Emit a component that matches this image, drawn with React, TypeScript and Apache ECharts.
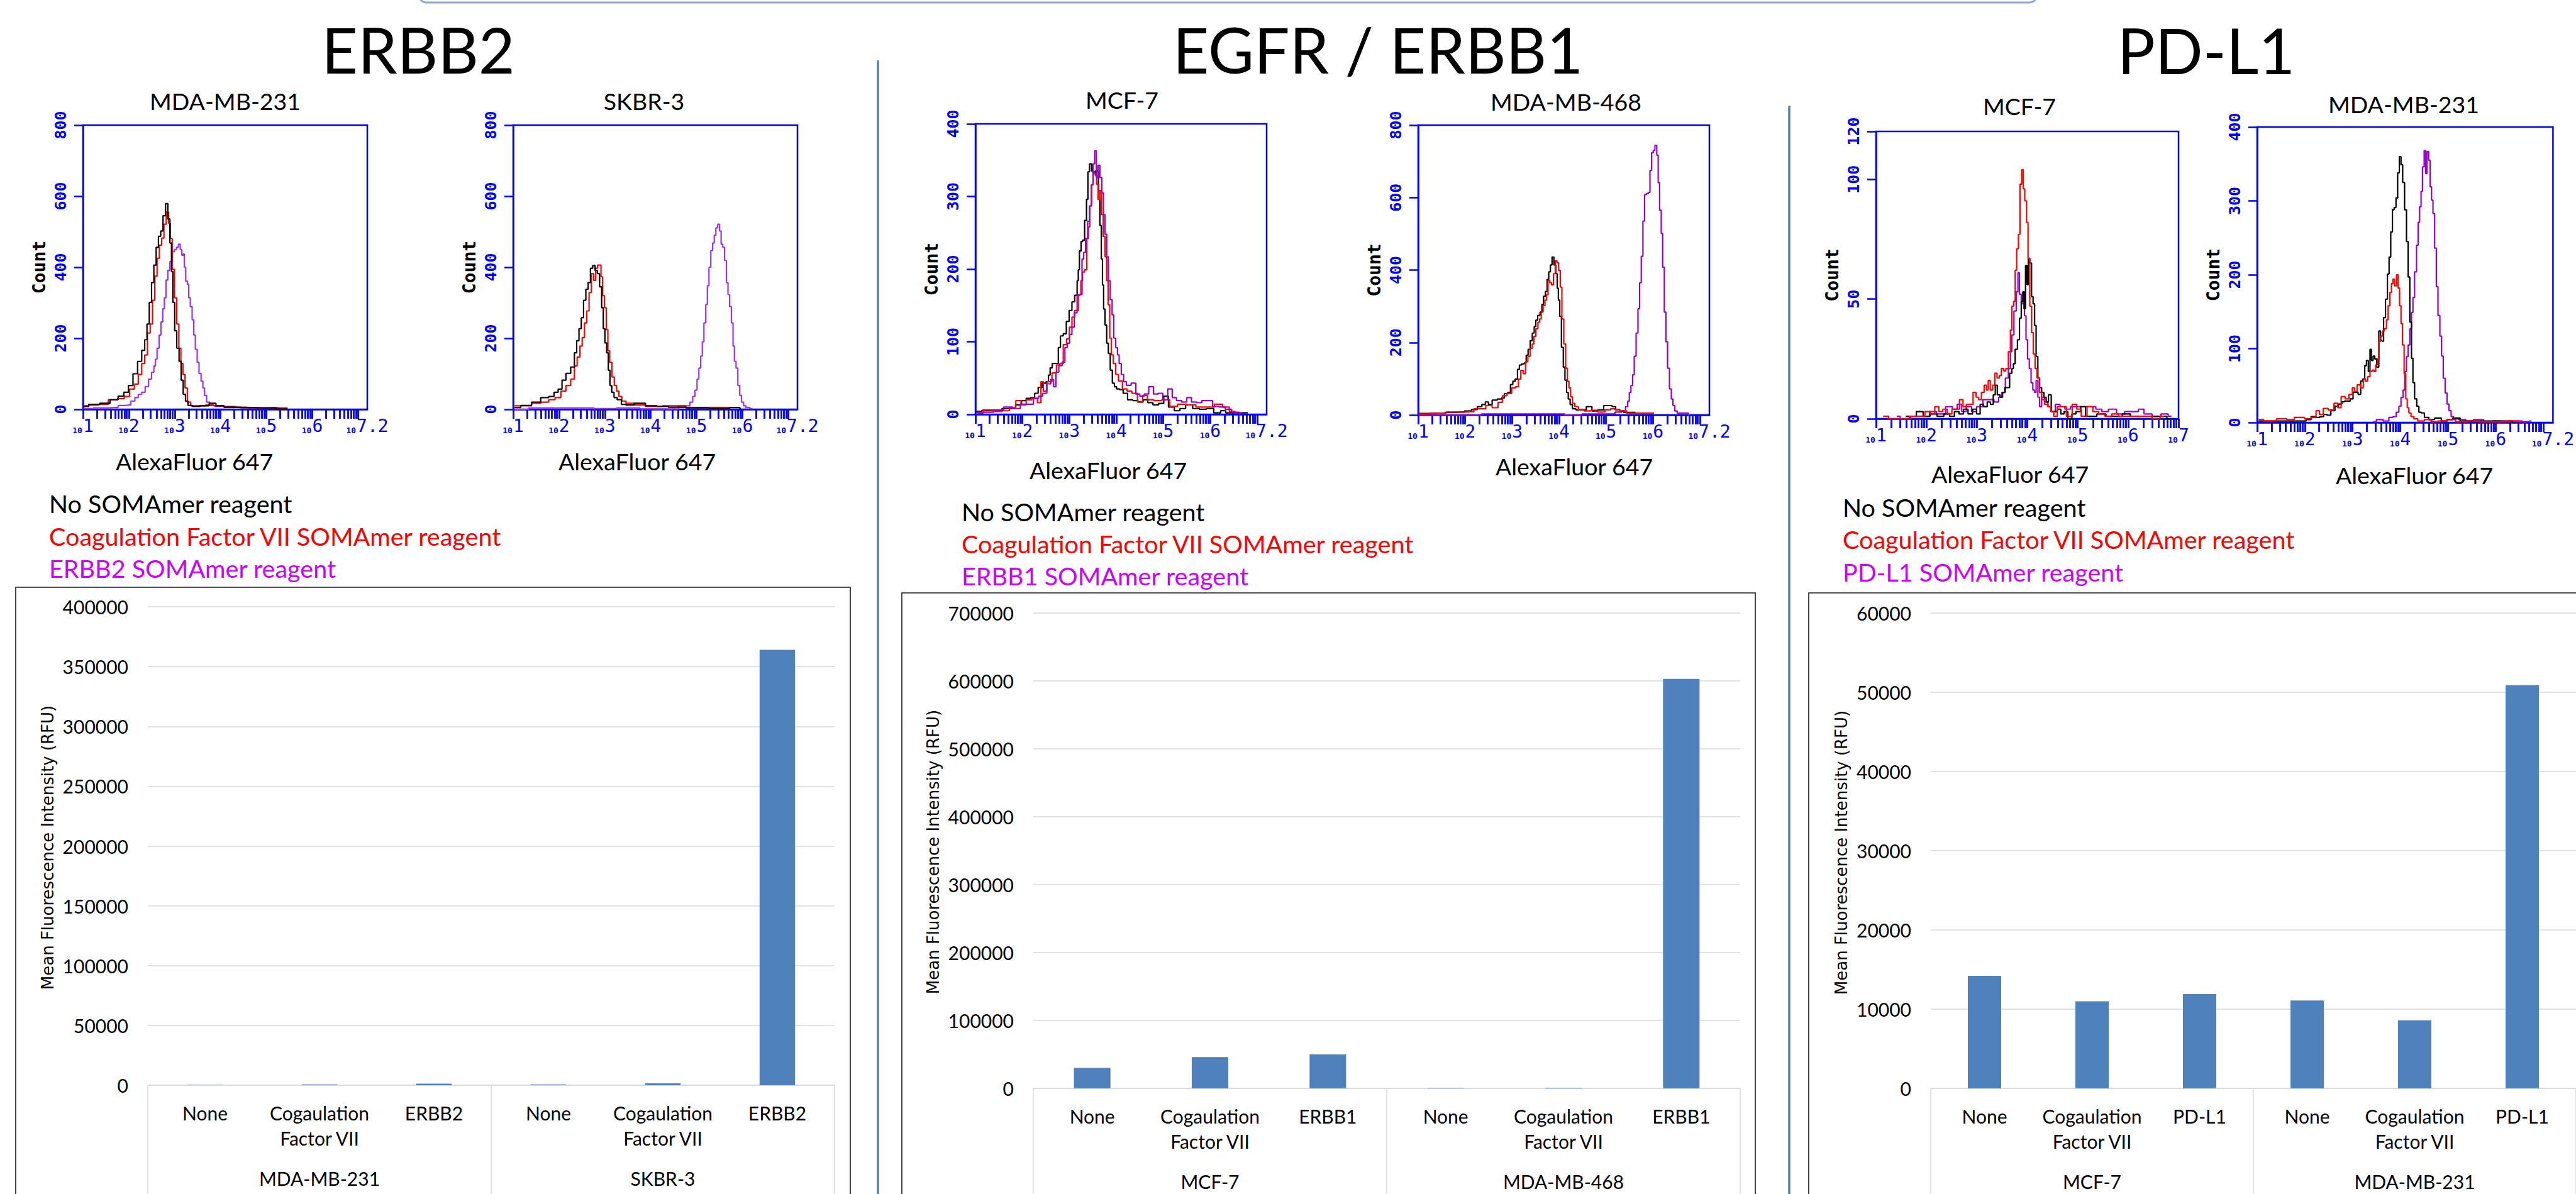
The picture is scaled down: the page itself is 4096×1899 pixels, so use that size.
import React, { useEffect, useRef } from "react";
import * as echarts from "echarts";

// ---------- Histogram data: [log10(AlexaFluor 647 intensity), count] ----------
// ERBB2 / MDA-MB-231
const h1Black = [[1.01,8],[1.24,14],[1.49,17],[1.69,27],[1.84,37],[1.94,48],[2.04,67],[2.14,100],[2.24,135],[2.32,166],[2.37,196],[2.42,240],[2.47,301],[2.52,357],[2.57,406],[2.62,456],[2.67,487],[2.72,502],[2.77,545],[2.83,579],[2.87,536],[2.92,468],[2.94,388],[2.98,301],[3.02,221],[3.07,172],[3.12,135],[3.16,82],[3.21,42],[3.26,23],[3.32,11],[3.45,8],[3.65,10],[3.85,17],[3.95,10],[4.2,6],[4.45,5],[4.95,4],[5.46,1]];
const h1Red = [[1.01,10],[1.24,12],[1.44,14],[1.66,27],[1.84,30],[1.96,36],[2.07,57],[2.17,71],[2.24,98],[2.32,129],[2.37,153],[2.44,215],[2.49,240],[2.54,307],[2.59,375],[2.64,425],[2.69,462],[2.74,482],[2.79,521],[2.84,555],[2.89,524],[2.92,481],[2.97,394],[3.02,314],[3.07,240],[3.11,172],[3.16,129],[3.2,98],[3.25,60],[3.3,20],[3.4,10],[3.6,10],[3.75,12],[3.95,10],[4.2,8],[4.45,6],[4.7,4],[5.46,4]];
const h1Purple = [[1.01,2],[1.44,4],[1.69,5],[1.84,11],[1.99,12],[2.09,23],[2.17,33],[2.24,42],[2.32,48],[2.39,64],[2.47,85],[2.52,104],[2.57,122],[2.59,141],[2.64,172],[2.68,209],[2.72,246],[2.76,283],[2.79,314],[2.83,364],[2.87,391],[2.92,416],[2.97,444],[3.02,450],[3.06,456],[3.1,465],[3.14,450],[3.17,434],[3.2,437],[3.22,400],[3.26,361],[3.29,352],[3.32,314],[3.36,289],[3.4,252],[3.43,209],[3.47,169],[3.51,132],[3.55,101],[3.6,79],[3.63,60],[3.67,39],[3.72,20],[3.8,11],[3.95,8],[4.2,6],[4.7,4],[5.21,5],[5.31,2]];
// ERBB2 / SKBR-3
const h2Black = [[1.03,5],[1.3,11],[1.5,20],[1.7,33],[1.85,36],[1.93,48],[2.03,57],[2.1,82],[2.2,101],[2.31,119],[2.36,159],[2.41,193],[2.46,227],[2.51,258],[2.56,307],[2.61,338],[2.66,357],[2.71,397],[2.76,405],[2.81,391],[2.86,382],[2.91,345],[2.95,286],[2.98,227],[3.02,187],[3.06,159],[3.09,110],[3.13,67],[3.17,48],[3.23,33],[3.31,27],[3.41,14],[3.51,12],[3.76,17],[4.01,10],[4.26,8],[4.51,6],[5.02,4],[5.52,2],[5.92,5],[5.97,1]];
const h2Red = [[1.03,10],[1.3,10],[1.5,17],[1.7,20],[1.85,27],[1.98,33],[2.1,51],[2.2,67],[2.31,85],[2.36,122],[2.43,147],[2.48,178],[2.53,202],[2.58,243],[2.63,277],[2.68,329],[2.73,382],[2.78,363],[2.82,397],[2.86,406],[2.9,406],[2.93,373],[2.97,320],[3.01,286],[3.05,224],[3.08,165],[3.13,132],[3.18,91],[3.23,67],[3.28,51],[3.33,36],[3.41,23],[3.51,17],[3.76,12],[4.01,8],[4.51,10],[5.02,5],[5.52,5],[5.74,5]];
const h2Purple = [[1.03,0],[1.65,4],[2.51,4],[3.01,2],[3.51,4],[4.01,1],[4.51,1],[4.71,10],[4.82,10],[4.89,20],[4.94,36],[4.99,54],[5.03,85],[5.07,116],[5.11,150],[5.14,190],[5.18,243],[5.22,295],[5.25,348],[5.29,400],[5.33,447],[5.37,468],[5.4,490],[5.44,511],[5.48,521],[5.52,502],[5.55,465],[5.59,456],[5.63,419],[5.67,357],[5.7,323],[5.74,289],[5.78,243],[5.81,178],[5.84,135],[5.88,116],[5.92,67],[5.96,39],[6.0,20],[6.05,10],[6.1,5],[6.22,2]];
// EGFR / MCF-7
const h3Black = [[1.02,4],[1.24,5],[1.49,5],[1.64,8],[1.78,8],[1.93,13],[2.03,19],[2.13,22],[2.22,23],[2.3,29],[2.37,37],[2.47,43],[2.54,45],[2.57,54],[2.61,64],[2.66,70],[2.74,70],[2.79,92],[2.83,108],[2.91,111],[2.96,128],[3.03,143],[3.08,155],[3.15,164],[3.18,184],[3.2,199],[3.23,225],[3.27,238],[3.3,240],[3.35,267],[3.38,296],[3.41,334],[3.45,345],[3.5,335],[3.53,332],[3.57,335],[3.61,335],[3.63,308],[3.67,260],[3.69,214],[3.72,178],[3.74,145],[3.78,123],[3.81,98],[3.85,84],[3.89,61],[3.94,43],[3.98,38],[4.03,35],[4.11,34],[4.18,29],[4.3,20],[4.4,19],[4.52,17],[4.62,20],[4.72,16],[4.84,13],[4.96,15],[5.06,25],[5.16,10],[5.31,5],[5.4,8],[5.55,13],[5.7,8],[5.84,7],[5.99,8],[6.16,2],[6.28,5],[6.38,2],[6.53,2],[6.8,2]];
const h3Red = [[1.02,2],[1.29,6],[1.49,4],[1.64,5],[1.81,9],[1.91,19],[2.03,13],[2.13,20],[2.27,22],[2.37,16],[2.42,45],[2.47,32],[2.57,45],[2.69,57],[2.76,68],[2.83,70],[2.91,96],[2.97,104],[3.03,120],[3.08,134],[3.15,143],[3.23,165],[3.26,184],[3.3,196],[3.35,199],[3.39,242],[3.42,258],[3.45,287],[3.49,316],[3.52,331],[3.54,332],[3.57,329],[3.59,317],[3.63,296],[3.67,308],[3.7,275],[3.74,245],[3.78,217],[3.81,184],[3.84,151],[3.88,105],[3.91,82],[3.96,70],[4.01,55],[4.08,46],[4.18,35],[4.28,32],[4.38,29],[4.52,17],[4.6,26],[4.72,20],[4.87,19],[5.06,20],[5.21,11],[5.4,14],[5.6,13],[5.79,10],[5.99,10],[6.19,14],[6.33,10],[6.48,4],[6.58,2]];
const h3Purple = [[1.05,2],[1.29,3],[1.49,6],[1.71,10],[1.88,8],[2.03,14],[2.17,14],[2.3,22],[2.39,25],[2.47,29],[2.57,42],[2.64,48],[2.69,38],[2.74,58],[2.81,67],[2.88,72],[2.93,92],[2.98,98],[3.03,110],[3.08,120],[3.13,140],[3.2,164],[3.25,165],[3.29,214],[3.32,223],[3.37,242],[3.41,266],[3.45,287],[3.49,316],[3.52,345],[3.56,363],[3.59,326],[3.63,343],[3.67,326],[3.71,305],[3.74,275],[3.78,248],[3.81,217],[3.85,184],[3.89,158],[3.93,137],[3.96,105],[4.01,92],[4.04,82],[4.08,70],[4.13,55],[4.18,45],[4.25,40],[4.38,43],[4.45,28],[4.55,25],[4.64,28],[4.74,38],[4.84,28],[4.94,29],[5.04,20],[5.15,35],[5.23,23],[5.33,19],[5.45,17],[5.55,23],[5.65,17],[5.77,16],[5.87,19],[5.99,19],[6.11,11],[6.26,10],[6.38,7],[6.53,3],[6.7,2]];
// EGFR / MDA-MB-468
const h4Black = [[1.01,4],[1.47,5],[1.67,7],[1.91,8],[2.06,11],[2.21,15],[2.31,23],[2.4,29],[2.46,36],[2.53,29],[2.62,41],[2.75,44],[2.8,47],[2.87,59],[2.94,62],[2.99,84],[3.04,93],[3.09,99],[3.14,126],[3.17,138],[3.24,141],[3.28,144],[3.32,165],[3.36,181],[3.41,205],[3.45,226],[3.49,244],[3.52,262],[3.57,275],[3.62,284],[3.65,305],[3.69,328],[3.73,341],[3.76,374],[3.8,395],[3.83,414],[3.87,436],[3.91,414],[3.95,390],[3.97,350],[4.0,317],[4.03,272],[4.07,187],[4.11,132],[4.14,96],[4.18,62],[4.21,44],[4.26,29],[4.31,17],[4.41,14],[4.51,14],[4.65,23],[4.75,11],[4.9,14],[5.0,26],[5.09,26],[5.17,23],[5.24,15],[5.34,11],[5.41,7],[5.83,5],[6.0,4]];
const h4Red = [[1.01,3],[1.47,5],[1.72,8],[1.96,8],[2.11,9],[2.26,17],[2.38,17],[2.5,26],[2.65,20],[2.75,35],[2.84,53],[2.94,59],[3.04,75],[3.11,78],[3.16,99],[3.21,123],[3.26,114],[3.31,147],[3.36,162],[3.41,184],[3.45,196],[3.48,217],[3.53,238],[3.57,256],[3.6,265],[3.64,284],[3.68,302],[3.72,317],[3.75,332],[3.78,371],[3.82,365],[3.86,359],[3.9,390],[3.94,426],[3.97,420],[4.01,399],[4.04,353],[4.08,265],[4.12,196],[4.16,129],[4.19,93],[4.23,75],[4.26,50],[4.31,32],[4.36,23],[4.46,15],[4.61,11],[4.75,13],[4.9,8],[5.05,14],[5.14,17],[5.24,14],[5.34,11],[5.54,5],[6.02,5]];
const h4Purple = [[1.01,0],[3.68,3],[3.87,3],[4.36,0],[4.61,3],[4.85,3],[5.09,3],[5.29,8],[5.39,11],[5.44,23],[5.48,38],[5.51,62],[5.55,81],[5.58,111],[5.62,162],[5.66,226],[5.7,293],[5.73,365],[5.77,438],[5.8,535],[5.84,608],[5.88,611],[5.92,614],[5.95,675],[5.99,724],[6.02,730],[6.06,744],[6.1,717],[6.12,641],[6.16,565],[6.19,501],[6.22,408],[6.26,284],[6.29,202],[6.33,129],[6.37,72],[6.41,44],[6.44,26],[6.49,11],[6.54,5],[6.73,5],[6.78,0]];
// PD-L1 / MCF-7
const h5Black = [[1.59,1],[1.73,1],[1.87,3],[2.0,1],[2.14,2],[2.28,1],[2.41,2],[2.51,1],[2.6,3],[2.69,2],[2.78,4],[2.87,2],[2.96,4],[3.03,2],[3.1,6],[3.17,5],[3.24,7],[3.3,6],[3.35,10],[3.38,14],[3.43,10],[3.49,9],[3.53,11],[3.58,13],[3.62,13],[3.68,19],[3.71,21],[3.74,23],[3.78,29],[3.83,33],[3.86,42],[3.9,49],[3.92,53],[3.95,46],[3.98,64],[4.01,56],[4.03,67],[4.07,65],[4.1,51],[4.13,48],[4.16,39],[4.19,26],[4.23,17],[4.26,13],[4.31,11],[4.35,9],[4.4,7],[4.44,10],[4.51,3],[4.56,3],[4.63,4],[4.7,2],[4.76,3],[4.85,0],[4.92,2],[5.01,3],[5.11,5],[5.2,1],[5.29,1],[5.47,2],[5.65,1],[5.84,1],[5.93,2],[6.16,1],[6.38,1],[6.57,1],[6.7,1],[6.84,0]];
const h5Red = [[1.14,1],[1.36,0],[1.59,0],[1.73,1],[1.91,1],[2.03,3],[2.12,2],[2.21,5],[2.28,3],[2.37,4],[2.46,2],[2.55,4],[2.62,4],[2.69,8],[2.76,5],[2.82,6],[2.89,6],[2.96,11],[3.01,9],[3.06,8],[3.12,11],[3.17,14],[3.21,12],[3.24,16],[3.29,12],[3.34,14],[3.37,19],[3.43,17],[3.46,18],[3.51,21],[3.55,20],[3.6,21],[3.65,28],[3.68,37],[3.71,47],[3.75,49],[3.77,62],[3.81,71],[3.84,77],[3.87,98],[3.91,104],[3.93,96],[3.97,91],[4.0,82],[4.03,67],[4.07,47],[4.1,36],[4.14,27],[4.17,21],[4.22,17],[4.26,11],[4.31,8],[4.38,6],[4.44,5],[4.49,3],[4.56,1],[4.63,5],[4.72,5],[4.83,1],[4.95,6],[5.01,4],[5.13,1],[5.24,5],[5.36,3],[5.47,2],[5.61,1],[5.74,2],[5.88,1],[6.06,1],[6.2,1],[6.38,1],[6.57,0],[6.7,1]];
const h5Purple = [[1.41,1],[1.55,0],[1.82,1],[2.0,1],[2.12,3],[2.28,2],[2.48,5],[2.55,4],[2.67,6],[2.73,3],[2.85,5],[2.94,3],[3.05,5],[3.19,8],[3.28,8],[3.4,7],[3.46,9],[3.53,11],[3.6,17],[3.65,21],[3.68,28],[3.71,35],[3.76,45],[3.8,53],[3.83,61],[3.86,52],[3.9,48],[3.93,53],[3.96,43],[3.99,33],[4.02,25],[4.06,21],[4.09,15],[4.13,12],[4.16,11],[4.19,16],[4.23,9],[4.26,5],[4.31,9],[4.38,7],[4.44,5],[4.51,3],[4.6,6],[4.7,5],[4.79,4],[4.92,5],[5.01,5],[5.15,5],[5.29,5],[5.43,4],[5.52,3],[5.7,4],[5.84,2],[6.02,3],[6.16,3],[6.25,4],[6.38,2],[6.57,1],[6.73,2],[6.86,1]];
// PD-L1 / MDA-MB-231
const h6Black = [[1.03,2],[1.34,2],[1.66,2],[1.97,2],[2.08,4],[2.18,8],[2.27,7],[2.36,8],[2.43,11],[2.5,10],[2.59,16],[2.67,22],[2.74,25],[2.81,28],[2.85,29],[2.92,29],[2.98,32],[3.04,41],[3.08,41],[3.15,38],[3.19,56],[3.24,59],[3.27,77],[3.31,84],[3.35,69],[3.38,99],[3.41,84],[3.45,90],[3.48,86],[3.53,75],[3.57,124],[3.6,111],[3.63,110],[3.67,142],[3.71,167],[3.75,201],[3.78,224],[3.82,258],[3.85,288],[3.89,291],[3.93,304],[3.96,338],[4.0,360],[4.03,349],[4.07,325],[4.11,288],[4.15,245],[4.18,197],[4.22,136],[4.25,87],[4.28,54],[4.32,32],[4.37,22],[4.41,14],[4.46,13],[4.55,7],[4.65,4],[4.79,6],[4.93,2],[5.04,4],[5.16,6],[5.35,2],[5.63,2],[6.09,2],[6.33,2],[6.37,0]];
const h6Red = [[1.03,4],[1.24,2],[1.57,5],[1.66,4],[1.9,7],[2.08,5],[2.2,7],[2.27,16],[2.34,11],[2.43,19],[2.55,17],[2.67,26],[2.71,20],[2.81,35],[2.88,32],[2.97,38],[3.02,47],[3.06,42],[3.13,51],[3.2,47],[3.25,59],[3.29,56],[3.34,62],[3.39,69],[3.43,71],[3.47,69],[3.5,78],[3.54,86],[3.57,110],[3.61,117],[3.64,124],[3.69,127],[3.73,139],[3.76,158],[3.8,176],[3.83,188],[3.86,194],[3.9,185],[3.94,200],[3.97,182],[4.0,158],[4.03,134],[4.06,105],[4.1,66],[4.13,32],[4.16,20],[4.2,13],[4.25,8],[4.32,5],[4.41,2],[4.6,4],[4.69,1],[4.88,2],[5.07,4],[5.25,1],[5.53,2],[5.77,1],[6.09,1],[6.42,2],[6.56,1]];
const h6Purple = [[3.43,1],[3.57,4],[3.71,2],[3.81,7],[3.88,8],[3.95,14],[3.99,22],[4.04,34],[4.08,44],[4.11,69],[4.15,89],[4.18,105],[4.22,127],[4.25,149],[4.28,169],[4.32,204],[4.36,240],[4.39,271],[4.42,292],[4.45,313],[4.48,346],[4.52,368],[4.54,337],[4.58,367],[4.61,355],[4.64,319],[4.67,301],[4.7,283],[4.74,236],[4.77,184],[4.81,145],[4.85,117],[4.88,90],[4.92,60],[4.96,40],[5.0,25],[5.04,16],[5.09,8],[5.14,5],[5.3,4],[5.44,2],[5.63,4],[5.86,1],[6.0,2],[6.23,1],[6.47,2],[6.65,1],[6.75,2]];

// ---------- Histogram axis tick labels ----------
const countTicks800 = [0, 200, 400, 600, 800];
const countTicks400 = [0, 100, 200, 300, 400];
const countTicks120 = [0, 50, 100, 120];
const decadeLabels72 = [1, 2, 3, 4, 5, 6, 7.2];
const decadeLabels7 = [1, 2, 3, 4, 5, 6, 7];

// ---------- Bar chart data ----------
const erbb2Categories = ["None", "Cogaulation\nFactor VII", "ERBB2", "None", "Cogaulation\nFactor VII", "ERBB2"];
const erbb2Groups = ["MDA-MB-231", "SKBR-3"];
const erbb2Values = [300, 700, 1300, 700, 1600, 364000];

const egfrCategories = ["None", "Cogaulation\nFactor VII", "ERBB1", "None", "Cogaulation\nFactor VII", "ERBB1"];
const egfrGroups = ["MCF-7", "MDA-MB-468"];
const egfrValues = [30000, 46000, 50000, 600, 1000, 603000];

const pdl1Categories = ["None", "Cogaulation\nFactor VII", "PD-L1", "None", "Cogaulation\nFactor VII", "PD-L1"];
const pdl1Groups = ["MCF-7", "MDA-MB-231"];
const pdl1Values = [14200, 11000, 11900, 11100, 8600, 50900];

// ---------- Styles ----------
const BLUE = "#0000FF";
const MONO = '"DejaVu Sans Mono", "Liberation Mono", monospace';
const SANS = 'Lato, "Open Sans", sans-serif';
const AXIS_TITLE = '"DejaVu Sans", Verdana, sans-serif';
const BAR_BLUE = "#4F81BD";
const GRID_GRAY = "#D9D9D9";

function decadeTicks(max: number): number[] {
  const out: number[] = [];
  for (let k = 1; k <= 7; k++) {
    for (let m = 1; m <= 9; m++) {
      const v = k + Math.log10(m);
      if (v <= max + 1e-6) out.push(v);
    }
  }
  return out;
}

type HistCfg = { box: number[]; xMax: number; xLabels: number[]; yMax: number; yTicks: number[]; lines: number[][][]; purple: string };

const hists: HistCfg[] = [
  { box: [132, 199, 584, 651], xMax: 7.2, xLabels: decadeLabels72, yMax: 800, yTicks: countTicks800, lines: [h1Purple, h1Red, h1Black], purple: "#9B30FF" },
  { box: [816, 199, 1268, 651], xMax: 7.2, xLabels: decadeLabels72, yMax: 800, yTicks: countTicks800, lines: [h2Purple, h2Red, h2Black], purple: "#9B30FF" },
  { box: [1551, 197, 2014, 659], xMax: 7.2, xLabels: decadeLabels72, yMax: 400, yTicks: countTicks400, lines: [h3Black, h3Red, h3Purple], purple: "#9900CC" },
  { box: [2255, 199, 2718, 660], xMax: 7.2, xLabels: decadeLabels72, yMax: 800, yTicks: countTicks800, lines: [h4Purple, h4Black, h4Red], purple: "#9900CC" },
  { box: [2983, 209, 3464, 666], xMax: 7, xLabels: decadeLabels7, yMax: 120, yTicks: countTicks120, lines: [h5Purple, h5Black, h5Red], purple: "#9900CC" },
  { box: [3589, 202, 4084, 672], xMax: 7.2, xLabels: decadeLabels72, yMax: 400, yTicks: countTicks400, lines: [h6Purple, h6Black, h6Red], purple: "#9900CC" },
];

const blackLines = [h1Black, h2Black, h3Black, h4Black, h5Black, h6Black];
const redLines = [h1Red, h2Red, h3Red, h4Red, h5Red, h6Red];

type BarCfg = { grid: number[]; cats: string[]; groups: string[]; vals: number[]; max: number; step: number };
const bars: BarCfg[] = [
  { grid: [235, 965, 1327, 1726], cats: erbb2Categories, groups: erbb2Groups, vals: erbb2Values, max: 400000, step: 50000 },
  { grid: [1643, 975, 2767, 1732], cats: egfrCategories, groups: egfrGroups, vals: egfrValues, max: 700000, step: 100000 },
  { grid: [3070, 975, 4107, 1736], cats: pdl1Categories, groups: pdl1Groups, vals: pdl1Values, max: 60000, step: 10000 },
];

function txt(text: string, x: number, y: number, size: number, fill: string, align: string = "center", family: string = SANS, rotation = 0) {
  return {
    type: "text",
    x,
    y,
    rotation,
    silent: true,
    style: { text, fill, fontSize: size, fontFamily: family, align, verticalAlign: "middle" },
  };
}

function buildOption() {
  const grid: any[] = [];
  const xAxis: any[] = [];
  const yAxis: any[] = [];
  const series: any[] = [];

  hists.forEach((h, i) => {
    const [x0, y0, x1, y1] = h.box;
    grid.push({ left: x0, top: y0, width: x1 - x0, height: y1 - y0, show: true, borderColor: BLUE, borderWidth: 2.5, backgroundColor: "transparent" });
    xAxis.push({
      gridIndex: i,
      type: "value",
      min: 1,
      max: h.xMax,
      axisLine: { show: true, onZero: false, lineStyle: { color: BLUE, width: 2.5 } },
      axisTick: { show: true, customValues: decadeTicks(h.xMax), length: 15, lineStyle: { color: BLUE, width: 2.8 } },
      axisLabel: {
        customValues: h.xLabels,
        margin: 12,
        color: BLUE,
        formatter: (v: number) => `{s|10}{e|${Math.round(v * 10) / 10}}`,
        rich: {
          s: { fontSize: 13, fontFamily: MONO, fontWeight: "bold", color: BLUE, verticalAlign: "bottom", padding: [14, 1, 0, 0] },
          e: { fontSize: 28, fontFamily: MONO, color: BLUE },
        },
      },
      splitLine: { show: false },
    });
    yAxis.push({
      gridIndex: i,
      type: "value",
      min: 0,
      max: h.yMax,
      axisLine: { show: true, lineStyle: { color: BLUE, width: 2.5 } },
      axisTick: { show: true, customValues: h.yTicks, length: 14, lineStyle: { color: BLUE, width: 2.5 } },
      axisLabel: { customValues: h.yTicks, rotate: 90, color: BLUE, fontFamily: MONO, fontWeight: "bold", fontSize: 25, margin: 23 },
      splitLine: { show: false },
      name: "Count",
      nameLocation: "middle",
      nameGap: 56,
      nameTextStyle: { color: "#000", fontFamily: MONO, fontWeight: "bold", fontSize: 28 },
    });
    h.lines.forEach((d) => {
      const color = blackLines.includes(d) ? "#000000" : redLines.includes(d) ? "#FF0000" : h.purple;
      series.push({
        type: "line",
        xAxisIndex: i,
        yAxisIndex: i,
        data: d,
        step: "middle",
        symbol: "none",
        silent: true,
        lineStyle: { color, width: 2.2 },
      });
    });
  });

  bars.forEach((b, j) => {
    const gi = 6 + j;
    const [x0, y0, x1, y1] = b.grid;
    grid.push({ left: x0, top: y0, width: x1 - x0, height: y1 - y0 });
    xAxis.push({
      gridIndex: gi,
      type: "category",
      data: b.cats,
      axisLine: { show: true, lineStyle: { color: GRID_GRAY, width: 1.5 } },
      axisTick: { show: false },
      axisLabel: { interval: 0, color: "#000", fontFamily: SANS, fontSize: 30, lineHeight: 40, margin: 24 },
      splitLine: { show: false },
    });
    xAxis.push({
      gridIndex: gi,
      type: "category",
      data: b.groups,
      position: "bottom",
      axisLine: { show: false },
      axisTick: { show: true, interval: 0, length: 240, lineStyle: { color: GRID_GRAY, width: 1.5 } },
      axisLabel: { interval: 0, color: "#000", fontFamily: SANS, fontSize: 30, lineHeight: 40, margin: 128 },
      splitLine: { show: false },
    });
    yAxis.push({
      gridIndex: gi,
      type: "value",
      min: 0,
      max: b.max,
      interval: b.step,
      axisLine: { show: false },
      axisTick: { show: false },
      axisLabel: { color: "#000", fontFamily: SANS, fontSize: 30, margin: 31, formatter: (v: number) => String(v) },
      splitLine: { show: true, lineStyle: { color: GRID_GRAY, width: 1.5 } },
    });
    series.push({
      type: "bar",
      xAxisIndex: 6 + 2 * j,
      yAxisIndex: 6 + j,
      data: b.vals,
      barWidth: "31%",
      silent: true,
      itemStyle: { color: BAR_BLUE },
    });
  });

  const graphic: any[] = [
    // top frame edge
    { type: "rect", silent: true, shape: { x: 666, y: -60, width: 2573, height: 64, r: 12 }, style: { fill: "none", stroke: "#8EA9CB", lineWidth: 3 } },
    // section dividers
    { type: "line", silent: true, shape: { x1: 1396, y1: 96, x2: 1396, y2: 1899 }, style: { stroke: BAR_BLUE, lineWidth: 3.5 } },
    { type: "line", silent: true, shape: { x1: 2845, y1: 168, x2: 2845, y2: 1899 }, style: { stroke: BAR_BLUE, lineWidth: 3.5 } },
    // bar chart frames
    { type: "rect", silent: true, shape: { x: 25, y: 934, width: 1327, height: 1100 }, style: { fill: "none", stroke: "#1a1a1a", lineWidth: 1.6 } },
    { type: "rect", silent: true, shape: { x: 1434, y: 943, width: 1357, height: 1100 }, style: { fill: "none", stroke: "#1a1a1a", lineWidth: 1.6 } },
    { type: "rect", silent: true, shape: { x: 2876, y: 943, width: 1400, height: 1100 }, style: { fill: "none", stroke: "#1a1a1a", lineWidth: 1.6 } },
    // section titles
    txt("ERBB2", 665, 78, 100, "#000"),
    txt("EGFR / ERBB1", 2191, 78, 100, "#000"),
    txt("PD-L1", 3508, 79, 100, "#000"),
    // histogram titles
    txt("MDA-MB-231", 358, 160, 37.5, "#000"),
    txt("SKBR-3", 1024, 160, 37.5, "#000"),
    txt("MCF-7", 1784, 158, 37.5, "#000"),
    txt("MDA-MB-468", 2490, 161, 37.5, "#000"),
    txt("MCF-7", 3211, 168, 37.5, "#000"),
    txt("MDA-MB-231", 3822, 165, 37.5, "#000"),
    // x axis titles
    txt("AlexaFluor 647", 309, 733, 37.5, "#000"),
    txt("AlexaFluor 647", 1013, 733, 37.5, "#000"),
    txt("AlexaFluor 647", 1762, 747, 37.5, "#000"),
    txt("AlexaFluor 647", 2503, 741, 37.5, "#000"),
    txt("AlexaFluor 647", 3196, 753, 37.5, "#000"),
    txt("AlexaFluor 647", 3839, 755, 37.5, "#000"),
    // legends
    txt("No SOMAmer reagent", 78, 800, 39.5, "#000", "left"),
    txt("Coagulation Factor VII SOMAmer reagent", 78, 852, 39.5, "#FF0000", "left"),
    txt("ERBB2 SOMAmer reagent", 78, 903, 39.5, "#CC00FF", "left"),
    txt("No SOMAmer reagent", 1529, 813, 39.5, "#000", "left"),
    txt("Coagulation Factor VII SOMAmer reagent", 1529, 864, 39.5, "#FF0000", "left"),
    txt("ERBB1 SOMAmer reagent", 1529, 915, 39.5, "#CC00FF", "left"),
    txt("No SOMAmer reagent", 2930, 806, 39.5, "#000", "left"),
    txt("Coagulation Factor VII SOMAmer reagent", 2930, 857, 39.5, "#FF0000", "left"),
    txt("PD-L1 SOMAmer reagent", 2930, 909, 39.5, "#CC00FF", "left"),
    // bar chart y titles
    txt("Mean Fluorescence Intensity (RFU)", 76, 1348, 26, "#000", "center", AXIS_TITLE, Math.PI / 2),
    txt("Mean Fluorescence Intensity (RFU)", 1484, 1355, 26, "#000", "center", AXIS_TITLE, Math.PI / 2),
    txt("Mean Fluorescence Intensity (RFU)", 2928, 1356, 26, "#000", "center", AXIS_TITLE, Math.PI / 2),
  ];

  return {
    animation: false,
    backgroundColor: "#FFFFFF",
    grid,
    xAxis,
    yAxis,
    series,
    graphic,
  };
}

export default function App() {
  const ref = useRef<HTMLDivElement>(null);
  useEffect(() => {
    if (!ref.current) return;
    const chart = echarts.init(ref.current, null, { renderer: "svg", width: 4096, height: 1899 });
    chart.setOption(buildOption() as any);
    return () => chart.dispose();
  }, []);
  return <div ref={ref} style={{ position: "absolute", left: 0, top: 0, width: 4096, height: 1899, background: "#fff" }} />;
}
